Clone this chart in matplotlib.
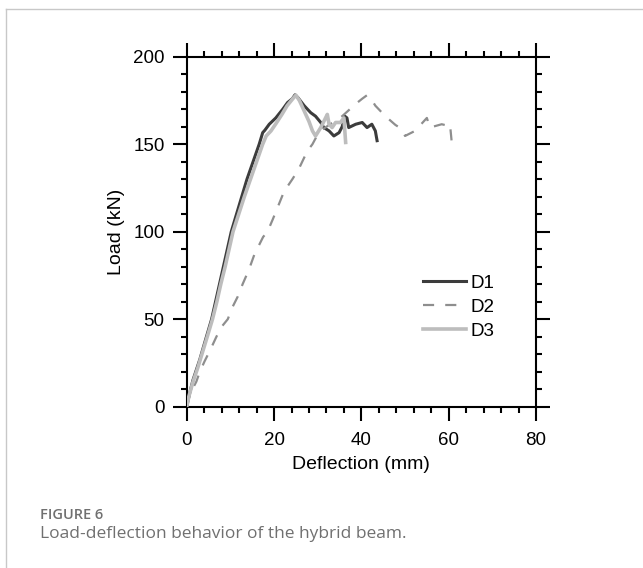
import matplotlib.pyplot as plt
from matplotlib.lines import Line2D
from matplotlib.ticker import MultipleLocator

plt.rcParams['font.family'] = ['Liberation Sans', 'DejaVu Sans']

# deflection (mm) / load (kN)
d1_x = [0, 0.6, 1.4, 3.0, 4.4, 5.7, 6.6, 7.5, 8.4, 9.3, 10.2, 11.4, 12.6, 13.8, 15.2, 16.6,
        17.4, 17.9, 18.9, 20.4, 22.0, 23.1, 24.2, 24.8, 25.5, 26.9, 28.4, 29.5, 30.7, 31.4,
        32.6, 33.7, 34.9, 35.6, 36.2, 36.7, 37.1, 38.7, 40.2, 41.3, 42.4, 43.2, 43.6]
d1_y = [0, 7, 15, 27, 39, 50, 60, 70, 80, 90, 100, 110, 120, 130, 140, 150,
        156.6, 158, 161.4, 165, 170, 173.8, 176, 178.2, 176.5, 172, 168, 166, 162.4, 159.5,
        157.6, 154.7, 156.6, 160, 166, 165, 159.5, 161.4, 162.4, 159.5, 161.4, 157.6, 152]

d2_x = [0, 0.6, 1.3, 2.2, 3.0, 4.1, 5.5, 6.8, 8.1, 9.4, 10.5, 11.7, 12.8, 14.2, 15.5, 17.5,
        18.5, 19.7, 21.0, 22.3, 24.2, 25.7, 27.6, 28.8, 30.3, 32.6, 35.6, 38.7, 40.2, 41.3,
        42.2, 43.2, 45.5, 47.8, 49.3, 50.0, 52.3, 55.0, 55.7, 58.4, 59.9, 60.3, 60.7]
d2_y = [0, 6, 10, 14.3, 20, 26, 33, 40, 46, 50, 57, 63, 70, 78, 87, 97,
        100, 107, 115, 123, 130, 136, 146, 150, 157, 161, 166, 173, 176, 178,
        176, 172, 166, 161, 158.6, 154.7, 157.6, 165, 159.5, 161.4, 160.5, 161.4, 151]

d3_x = [0, 0.5, 1.45, 2.5, 3.6, 4.7, 5.9, 6.9, 7.8, 8.8, 9.7, 10.6, 11.9, 13.2, 14.6, 16.0,
        17.4, 18.2, 19.3, 20.5, 21.8, 23.0, 24.3, 25.0, 25.8, 26.9, 28.0, 28.8, 29.5, 30.7,
        31.8, 32.2, 32.6, 33.3, 34.1, 35.2, 36.0, 36.4]
d3_y = [0, 6, 14.3, 22, 31, 40, 50, 60, 70, 80, 90, 100, 110, 120, 130, 140,
        150, 154.7, 157.6, 162, 167, 172, 176, 178, 175, 169, 163, 157.6, 154.7, 159.5,
        165, 167, 161.4, 159.5, 162.4, 162.4, 165, 151]

fig = plt.figure(figsize=(6.43, 5.68), dpi=100)
ax = fig.add_axes([0.2904, 0.2840, 0.5432, 0.6162])

ax.plot(d1_x, d1_y, color='#3c3c3c', lw=2.2, label='D1', zorder=2)
ax.plot(d2_x, d2_y, color='#8e8e8e', lw=1.6, dashes=(5, 5), label='D2', zorder=2)
ax.plot(d3_x, d3_y, color='#bdbdbd', lw=2.6, label='D3', zorder=3)

ax.set_xlim(0, 80)
ax.set_ylim(0, 200)
ax.xaxis.set_major_locator(MultipleLocator(20))
ax.xaxis.set_minor_locator(MultipleLocator(4))
ax.yaxis.set_major_locator(MultipleLocator(50))
ax.yaxis.set_minor_locator(MultipleLocator(10))
for s in ax.spines.values():
    s.set_linewidth(1.5)
ax.tick_params(which='both', direction='out', top=True, right=True, width=1.5)
ax.tick_params(which='major', length=10, labelsize=13.5)
ax.tick_params(axis='x', which='major', pad=8)
ax.tick_params(axis='y', which='major', pad=6)
ax.tick_params(which='minor', length=4.5)

ax.set_xlabel('Deflection (mm)', fontsize=14, labelpad=5)
ax.set_ylabel('Load (kN)', fontsize=14, labelpad=6)

ax.legend(loc='upper left', bbox_to_anchor=(0.677, 0.378), frameon=False, fontsize=13.5,
          handlelength=2.3, handletextpad=0.2, labelspacing=0.38, borderpad=0, borderaxespad=0)

# frame lines of the page box
fig.add_artist(Line2D([0.0093, 1], [0.984, 0.984], color='#c8c8c8', lw=1))
fig.add_artist(Line2D([0.0093, 0.0093], [0, 0.984], color='#c8c8c8', lw=1))

fig.text(0.062, 0.0933, 'FIGURE 6', fontsize=10.5, color='#707070', family='Open Sans',
         weight='semibold', va='center')
fig.text(0.062, 0.0599, 'Load-deflection behavior of the hybrid beam.', fontsize=12.5,
         color='#707070', family='Open Sans', va='center')

fig.savefig('out.png', dpi=100)
